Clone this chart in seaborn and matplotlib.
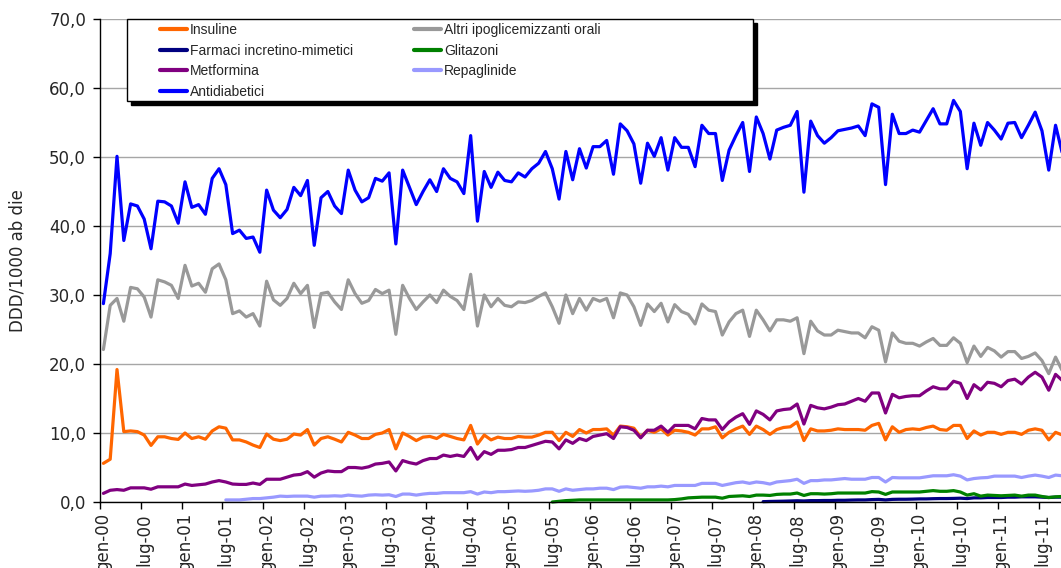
import numpy as np
import pandas as pd
import matplotlib
matplotlib.use("Agg")
import matplotlib.pyplot as plt
import seaborn as sns
from matplotlib.lines import Line2D
from matplotlib.patches import Rectangle
from matplotlib.ticker import FixedLocator, FuncFormatter, NullFormatter

# ---------------- data ----------------
MESI = ['gen', 'feb', 'mar', 'apr', 'mag', 'giu', 'lug', 'ago', 'set', 'ott', 'nov', 'dic']
N_MONTHS = 142
months = [f"{MESI[i % 12]}-{i // 12:02d}" for i in range(N_MONTHS)]

antidiabetici = [
    28.75, 36.0, 50.1, 37.9, 43.2, 42.9, 41.0, 36.7, 43.6, 43.5,
    42.9, 40.4, 46.4, 42.7, 43.1, 41.7, 46.9, 48.3, 46.0, 38.9,
    39.4, 38.2, 38.4, 36.2, 45.2, 42.3, 41.2, 42.4, 45.6, 44.4,
    46.6, 37.2, 44.1, 45.0, 42.9, 41.8, 48.1, 45.2, 43.5, 44.1,
    46.9, 46.5, 47.7, 37.4, 48.1, 45.6, 43.1, 45.0, 46.7, 45.0,
    48.3, 46.9, 46.4, 44.7, 53.1, 40.7, 47.9, 45.6, 47.8, 46.6,
    46.4, 47.7, 47.1, 48.3, 49.1, 50.8, 48.3, 43.9, 50.8, 46.7,
    51.2, 48.4, 51.5, 51.5, 52.4, 47.5, 54.8, 53.8, 51.9, 46.2,
    52.0, 50.1, 52.8, 48.1, 52.8, 51.4, 51.4, 48.6, 54.6, 53.4,
    53.4, 46.6, 51.0, 53.1, 55.0, 47.9, 55.8, 53.4, 49.7, 53.9,
    54.3, 54.6, 56.6, 44.9, 55.2, 53.1, 52.0, 52.8, 53.8, 54.0,
    54.2, 54.5, 53.1, 57.7, 57.2, 46.0, 56.2, 53.4, 53.4, 53.9,
    53.6, 55.3, 57.0, 54.8, 54.8, 58.2, 56.6, 48.3, 54.9, 51.7,
    55.0, 53.9, 52.6, 54.9, 55.0, 52.8, 54.6, 56.5, 53.8, 48.1,
    54.6, 50.5,
]

altri_orali = [
    22.1, 28.5, 29.5, 26.2, 31.1, 30.9, 29.7, 26.8, 32.2, 31.9,
    31.4, 29.5, 34.3, 31.3, 31.7, 30.4, 33.8, 34.5, 32.2, 27.3,
    27.7, 26.8, 27.3, 25.5, 32.0, 29.3, 28.5, 29.5, 31.7, 30.2,
    31.4, 25.3, 30.2, 30.4, 29.0, 27.9, 32.2, 30.2, 28.8, 29.2,
    30.8, 30.2, 30.7, 24.3, 31.4, 29.5, 27.9, 29.0, 30.0, 28.9,
    30.7, 29.8, 29.2, 27.9, 33.0, 25.5, 30.0, 28.3, 29.5, 28.5,
    28.3, 29.0, 28.9, 29.2, 29.8, 30.3, 28.3, 25.9, 30.0, 27.3,
    29.5, 27.8, 29.5, 29.1, 29.5, 26.7, 30.3, 30.0, 28.3, 25.6,
    28.7, 27.6, 28.8, 26.1, 28.6, 27.6, 27.2, 25.8, 28.7, 27.8,
    27.6, 24.2, 26.1, 27.3, 27.8, 24.0, 27.8, 26.4, 24.8, 26.4,
    26.4, 26.2, 26.7, 21.5, 26.2, 24.8, 24.2, 24.2, 24.9, 24.7,
    24.5, 24.5, 23.8, 25.4, 24.9, 20.3, 24.5, 23.3, 23.0, 23.0,
    22.6, 23.2, 23.7, 22.7, 22.7, 23.8, 23.0, 20.2, 22.6, 21.1,
    22.4, 21.9, 21.0, 21.8, 21.8, 20.8, 21.1, 21.6, 20.5, 18.6,
    21.0, 19.0,
]

insuline = [
    5.6, 6.2, 19.2, 10.2, 10.3, 10.2, 9.7, 8.2, 9.45, 9.45,
    9.2, 9.07, 10.0, 9.2, 9.45, 9.1, 10.3, 10.9, 10.7, 9.0,
    9.0, 8.7, 8.25, 7.9, 9.85, 9.1, 8.9, 9.1, 9.85, 9.7,
    10.5, 8.25, 9.2, 9.45, 9.1, 8.7, 10.1, 9.7, 9.2, 9.2,
    9.8, 10.0, 10.5, 7.7, 10.0, 9.5, 8.9, 9.4, 9.5, 9.2,
    9.8, 9.5, 9.2, 9.0, 11.1, 8.4, 9.7, 9.0, 9.4, 9.2,
    9.2, 9.5, 9.4, 9.4, 9.7, 10.1, 10.1, 8.9, 10.1, 9.5,
    10.5, 10.0, 10.5, 10.5, 10.6, 9.7, 11.0, 10.9, 10.7, 9.4,
    10.4, 10.1, 10.6, 9.7, 10.4, 10.3, 10.1, 9.7, 10.6, 10.6,
    10.9, 9.3, 10.1, 10.6, 11.0, 9.8, 11.0, 10.5, 9.8, 10.5,
    10.8, 10.9, 11.6, 8.9, 10.6, 10.3, 10.3, 10.4, 10.6, 10.5,
    10.5, 10.5, 10.4, 11.1, 11.4, 9.0, 10.9, 10.1, 10.5, 10.6,
    10.5, 10.8, 11.0, 10.5, 10.4, 11.1, 11.1, 9.2, 10.3, 9.7,
    10.1, 10.1, 9.8, 10.1, 10.1, 9.8, 10.4, 10.6, 10.4, 9.0,
    10.1, 9.7,
]

metformina = [
    1.25, 1.7, 1.8, 1.7, 2.05, 2.05, 2.05, 1.85, 2.2, 2.2,
    2.2, 2.2, 2.6, 2.4, 2.5, 2.6, 2.9, 3.1, 2.9, 2.6,
    2.55, 2.55, 2.75, 2.55, 3.3, 3.3, 3.3, 3.6, 3.9, 4.0,
    4.4, 3.6, 4.2, 4.5, 4.4, 4.4, 5.0, 5.0, 4.9, 5.1,
    5.5, 5.6, 5.8, 4.5, 6.0, 5.7, 5.5, 6.0, 6.3, 6.3,
    6.8, 6.6, 6.8, 6.6, 7.9, 6.2, 7.3, 6.9, 7.5, 7.5,
    7.6, 7.9, 7.9, 8.2, 8.5, 8.8, 8.7, 7.7, 9.0, 8.5,
    9.2, 8.9, 9.5, 9.7, 9.9, 9.2, 10.9, 10.8, 10.4, 9.3,
    10.4, 10.4, 11.0, 10.1, 11.1, 11.1, 11.1, 10.6, 12.1, 11.9,
    11.9, 10.5, 11.6, 12.3, 12.8, 11.25, 13.2, 12.7, 11.9, 13.2,
    13.4, 13.5, 14.2, 11.3, 14.0, 13.65, 13.5, 13.75, 14.1, 14.2,
    14.6, 15.0, 14.6, 15.8, 15.8, 12.9, 15.6, 15.1, 15.3, 15.4,
    15.4, 16.1, 16.7, 16.4, 16.4, 17.5, 17.2, 15.0, 17.0, 16.25,
    17.35, 17.2, 16.7, 17.6, 17.8, 17.1, 18.1, 18.8, 18.1, 16.2,
    18.5, 17.6,
]

repaglinide_start = 18
repaglinide = [
    0.3, 0.3, 0.3, 0.4, 0.5, 0.5, 0.6, 0.7, 0.85, 0.8, 0.85, 0.85,
    0.85, 0.7, 0.85, 0.85, 0.9, 0.85, 1.0, 0.9, 0.85, 1.0,
    1.05, 1.0, 1.05, 0.8, 1.15, 1.15, 1.0, 1.15, 1.25, 1.25,
    1.35, 1.35, 1.35, 1.35, 1.5, 1.15, 1.45, 1.35, 1.5, 1.5,
    1.55, 1.6, 1.55, 1.6, 1.7, 1.9, 1.9, 1.55, 1.9, 1.7,
    1.8, 1.9, 1.9, 2.0, 2.0, 1.8, 2.15, 2.2, 2.1, 2.0,
    2.2, 2.2, 2.3, 2.2, 2.4, 2.4, 2.4, 2.4, 2.7, 2.7,
    2.7, 2.4, 2.6, 2.8, 2.9, 2.7, 2.9, 2.8, 2.6, 2.9,
    3.0, 3.1, 3.3, 2.7, 3.1, 3.1, 3.2, 3.2, 3.3, 3.4,
    3.3, 3.3, 3.3, 3.55, 3.55, 2.9, 3.55, 3.5, 3.5, 3.5,
    3.5, 3.65, 3.8, 3.8, 3.8, 3.95, 3.75, 3.2, 3.4, 3.5,
    3.55, 3.75, 3.75, 3.75, 3.75, 3.55, 3.75, 3.9, 3.75, 3.55,
    3.9, 3.8,
]

glitazoni_start = 66
glitazoni = [
    0.0, 0.1, 0.2, 0.25,
    0.3, 0.3, 0.3, 0.3, 0.3, 0.3, 0.3, 0.3, 0.3, 0.3,
    0.3, 0.3, 0.3, 0.3, 0.35, 0.45, 0.6, 0.65, 0.7, 0.7,
    0.7, 0.55, 0.8, 0.85, 0.9, 0.8, 1.0, 1.0, 0.95, 1.1,
    1.15, 1.15, 1.3, 0.95, 1.2, 1.2, 1.15, 1.2, 1.3, 1.3,
    1.3, 1.3, 1.3, 1.5, 1.45, 1.1, 1.45, 1.45, 1.45, 1.45,
    1.45, 1.55, 1.65, 1.55, 1.55, 1.65, 1.45, 1.0, 1.2, 0.85,
    1.0, 0.95, 0.9, 0.95, 1.0, 0.85, 1.0, 1.0, 0.8, 0.65,
    0.75, 0.8,
]

incretino_start = 97
incretino = [
    0.05, 0.08, 0.1,
    0.12, 0.15, 0.18, 0.15, 0.2, 0.2, 0.22, 0.22, 0.25, 0.25,
    0.28, 0.3, 0.3, 0.35, 0.38, 0.3, 0.38, 0.4, 0.4, 0.42,
    0.45, 0.45, 0.48, 0.5, 0.5, 0.52, 0.55, 0.5, 0.6, 0.6,
    0.65, 0.65, 0.65, 0.7, 0.7, 0.75, 0.75, 0.75, 0.7, 0.65,
    0.7, 0.7,
]

Y_TICKS = [0, 10, 20, 30, 40, 50, 60, 70]

# ---------------- build long table ----------------
series = [
    ("Insuline", 0, insuline),
    ("Altri ipoglicemizzanti orali", 0, altri_orali),
    ("Farmaci incretino-mimetici", incretino_start, incretino),
    ("Glitazoni", glitazoni_start, glitazoni),
    ("Metformina", 0, metformina),
    ("Repaglinide", repaglinide_start, repaglinide),
    ("Antidiabetici", 0, antidiabetici),
]
rows = []
for name, start, vals in series:
    for k, v in enumerate(vals):
        rows.append((start + k, v, name))
df = pd.DataFrame(rows, columns=["mese", "valore", "serie"])

COLORS = {
    "Insuline": "#FF6600",
    "Farmaci incretino-mimetici": "#000080",
    "Metformina": "#800080",
    "Antidiabetici": "#0000FF",
    "Altri ipoglicemizzanti orali": "#999999",
    "Glitazoni": "#008000",
    "Repaglinide": "#9999FF",
}
DRAW_ORDER = [s[0] for s in series]
LEGEND_ORDER = ["Insuline", "Farmaci incretino-mimetici", "Metformina", "Antidiabetici",
                "Altri ipoglicemizzanti orali", "Glitazoni", "Repaglinide"]

# ---------------- figure ----------------
sns.set_style("white")
plt.rcParams["font.family"] = ["DejaVu Sans"]

W, H = 1061, 568
fig = plt.figure(figsize=(W / 100, H / 100), dpi=100)
ax = fig.add_axes([100 / W, 66 / H, 961 / W, 483 / H])

sns.lineplot(data=df, x="mese", y="valore", hue="serie", hue_order=DRAW_ORDER,
             palette=COLORS, linewidth=2.3, legend=False, errorbar=None,
             estimator=None, ax=ax, solid_joinstyle="round", clip_on=False)

ax.set_xlim(-0.5, 140.8)
ax.set_ylim(0, 70)

# y axis
ax.yaxis.set_major_locator(FixedLocator(Y_TICKS))
ax.yaxis.set_major_formatter(FuncFormatter(lambda v, p: f"{v:.1f}".replace(".", ",")))
ax.tick_params(axis="y", which="major", direction="out", length=5, width=1,
               color="black", pad=5, labelsize=12, left=True)
ax.yaxis.grid(True, color="#a6a6a6", linewidth=1)
ax.xaxis.grid(False)
ax.set_axisbelow(True)

# x axis: labels centred on categories, tick marks on category boundaries
label_pos = [p for p in range(0, N_MONTHS, 6) if p <= 140]
ax.xaxis.set_major_locator(FixedLocator(label_pos))
ax.set_xticklabels([months[p] for p in label_pos], rotation=90)
ax.xaxis.set_minor_locator(FixedLocator([p - 0.5 for p in label_pos]))
ax.xaxis.set_minor_formatter(NullFormatter())
ax.tick_params(axis="x", which="major", length=0, pad=8, labelsize=12)
ax.tick_params(axis="x", which="minor", direction="out", length=5, width=1,
               color="black", bottom=True)

ax.set_xlabel("")
ax.set_ylabel("DDD/1000 ab die", fontsize=12)
ax.yaxis.set_label_coords(-0.077, 0.5)

for side in ["top", "right"]:
    ax.spines[side].set_visible(False)
for side in ["left", "bottom"]:
    ax.spines[side].set_color("black")
    ax.spines[side].set_linewidth(1)

# legend box with shadow
bx0, bx1, by0, by1 = 127, 753, 19, 101
shadow = Rectangle(((bx0 + 4) / W, 1 - (by1 + 4) / H), (bx1 - bx0) / W, (by1 - by0) / H,
                   transform=fig.transFigure, facecolor="black", edgecolor="black",
                   zorder=4, clip_on=False)
box = Rectangle((bx0 / W, 1 - by1 / H), (bx1 - bx0) / W, (by1 - by0) / H,
                transform=fig.transFigure, facecolor="white", edgecolor="black",
                linewidth=1, zorder=4.5, clip_on=False)
ax.add_patch(shadow)
ax.add_patch(box)

handles = [Line2D([0], [0], color=COLORS[n], linewidth=3) for n in LEGEND_ORDER]
leg = ax.legend(handles, LEGEND_ORDER, ncol=2, loc="upper left",
                bbox_to_anchor=(160 / W, 1 - 23 / H), bbox_transform=fig.transFigure,
                frameon=False, borderpad=0, borderaxespad=0, handlelength=1.95,
                handletextpad=0.2, columnspacing=4.4, labelspacing=0.48,
                prop={"family": "Liberation Sans", "size": 10})
leg.set_zorder(6)

fig.savefig("out.png", dpi=100)
